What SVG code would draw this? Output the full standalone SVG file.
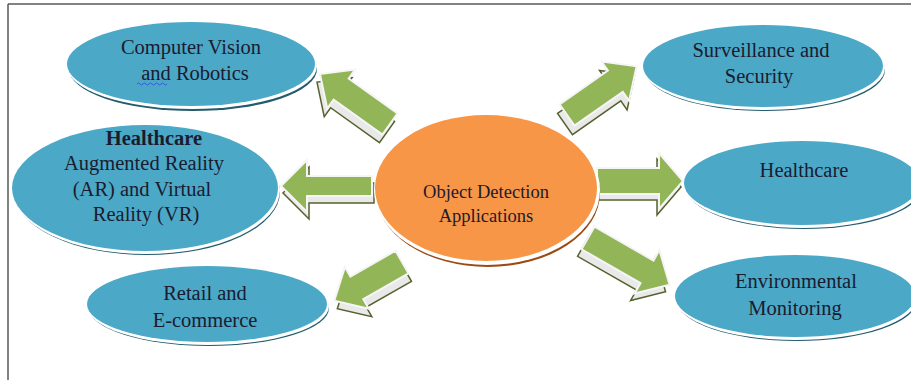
<svg xmlns="http://www.w3.org/2000/svg" width="911" height="380" viewBox="0 0 911 380">
<style>
.frame{stroke:#5a5a5a;stroke-width:1.5;fill:none}
.esh{fill:#245c6d}
.erim{fill:#ffffff}
.ebody{fill:#4BA8C7}
.csh{fill:#9a4a12}
.cbody{fill:#F79646}
.ash{fill:#e9e9e9;stroke:#55622c;stroke-width:1.5;stroke-linejoin:miter}
.abody{fill:#92B558;stroke:#f5f5f5;stroke-width:2}
text{font-family:"Liberation Serif","Times New Roman",serif;fill:#1b1b2f;text-anchor:middle}
.t{font-size:20.5px}
.b{font-weight:bold}
.c{font-size:18.5px}
</style>
<rect x="0" y="0" width="911" height="380" fill="#ffffff"/>
<path class="frame" d="M8,4 H911 M8,4 V380"/>

<g id="connectors">
  <g id="arrow-cv">
    <polygon class="ash" transform="translate(-3,8) translate(390,124) rotate(215.5)" points="0,-13 60,-13 60,-24 86,0 60,24 60,13 0,13"/>
    <polygon class="abody" transform="translate(390,124) rotate(215.5)" points="0,-13 60,-13 60,-24 86,0 60,24 60,13 0,13"/>
  </g>
  <g id="arrow-surv">
    <polygon class="ash" transform="translate(-2,9) translate(567,115) rotate(-35)" points="0,-13 59,-13 59,-24 85,0 59,24 59,13 0,13"/>
    <polygon class="abody" transform="translate(567,115) rotate(-35)" points="0,-13 59,-13 59,-24 85,0 59,24 59,13 0,13"/>
  </g>
  <g id="arrow-ar">
    <polygon class="ash" transform="translate(2,7) translate(372,186) rotate(180)" points="0,-10 65,-10 65,-26 91,0 65,26 65,10 0,10"/>
    <polygon class="abody" transform="translate(372,186) rotate(180)" points="0,-10 65,-10 65,-26 91,0 65,26 65,10 0,10"/>
  </g>
  <g id="arrow-health">
    <polygon class="ash" transform="translate(-2,6) translate(597,181) rotate(0)" points="0,-13 62,-13 62,-28 86,0 62,28 62,13 0,13"/>
    <polygon class="abody" transform="translate(597,181) rotate(0)" points="0,-13 62,-13 62,-28 86,0 62,28 62,13 0,13"/>
  </g>
  <g id="arrow-retail">
    <polygon class="ash" transform="translate(3,8) translate(402,262) rotate(150.2)" points="0,-13 52,-13 52,-24 78,0 52,24 52,13 0,13"/>
    <polygon class="abody" transform="translate(402,262) rotate(150.2)" points="0,-13 52,-13 52,-24 78,0 52,24 52,13 0,13"/>
  </g>
  <g id="arrow-env">
    <polygon class="ash" transform="translate(-4,7) translate(588,238) rotate(29.8)" points="0,-13 68,-13 68,-25 94,0 68,25 68,13 0,13"/>
    <polygon class="abody" transform="translate(588,238) rotate(29.8)" points="0,-13 68,-13 68,-25 94,0 68,25 68,13 0,13"/>
  </g>
</g>

<g id="center">
  <ellipse class="csh" cx="488" cy="193" rx="112" ry="74"/>
  <ellipse class="erim" cx="487" cy="190" rx="113" ry="75"/>
  <ellipse class="cbody" cx="486" cy="188" rx="111" ry="73"/>
  <text class="c" x="486" y="198">Object Detection</text>
  <text class="c" x="486" y="222">Applications</text>
</g>

<g id="node-cv">
  <ellipse class="esh" cx="193" cy="69" rx="124" ry="42"/>
  <ellipse class="erim" cx="192" cy="66" rx="125" ry="43"/>
  <ellipse class="ebody" cx="191" cy="64" rx="124" ry="42"/>
  <text class="t" x="191" y="54">Computer Vision</text>
  <text class="t" x="195" y="80">and Robotics</text>
  <path d="M137,84 q1.5,-2 3,0 t3,0 t3,0 t3,0 t3,0 t3,0 t3,0 t3,0 t3,0 t3,0" fill="none" stroke="#3a5ad8" stroke-width="1"/>
</g>

<g id="node-ar">
  <ellipse class="esh" cx="147" cy="192" rx="133" ry="63"/>
  <ellipse class="erim" cx="146" cy="190" rx="134" ry="64"/>
  <ellipse class="ebody" cx="145" cy="188" rx="133" ry="63"/>
  <text class="t b" x="154" y="145">Healthcare</text>
  <text class="t" x="144" y="170">Augmented Reality</text>
  <text class="t" x="142" y="196">(AR) and Virtual</text>
  <text class="t" x="146" y="221">Reality (VR)</text>
</g>

<g id="node-retail">
  <ellipse class="esh" cx="209" cy="308" rx="120" ry="38"/>
  <ellipse class="erim" cx="208" cy="306" rx="121" ry="39"/>
  <ellipse class="ebody" cx="207" cy="304" rx="120" ry="38"/>
  <text class="t" x="205" y="300">Retail and</text>
  <text class="t" x="205" y="327">E-commerce</text>
</g>

<g id="node-surv">
  <ellipse class="esh" cx="765" cy="70" rx="120" ry="41"/>
  <ellipse class="erim" cx="764" cy="68" rx="121" ry="42"/>
  <ellipse class="ebody" cx="763" cy="66" rx="120" ry="41"/>
  <text class="t" x="761" y="57">Surveillance and</text>
  <text class="t" x="759" y="83">Security</text>
</g>

<g id="node-health">
  <ellipse class="esh" cx="804" cy="187" rx="118" ry="42"/>
  <ellipse class="erim" cx="803" cy="185" rx="119" ry="43"/>
  <ellipse class="ebody" cx="802" cy="183" rx="118" ry="42"/>
  <text class="t" x="804" y="177">Healthcare</text>
</g>

<g id="node-env">
  <ellipse class="esh" cx="797" cy="300" rx="120" ry="41"/>
  <ellipse class="erim" cx="796" cy="298" rx="121" ry="42"/>
  <ellipse class="ebody" cx="795" cy="296" rx="120" ry="41"/>
  <text class="t" x="796" y="288">Environmental</text>
  <text class="t" x="795" y="315">Monitoring</text>
</g>
</svg>
